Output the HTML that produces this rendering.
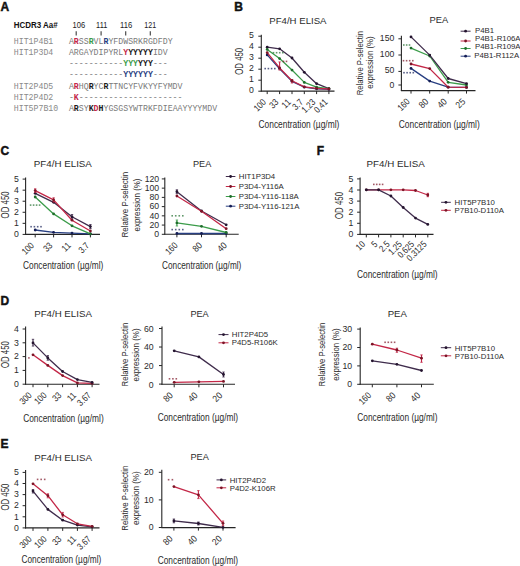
<!DOCTYPE html>
<html><head><meta charset="utf-8"><title>Figure</title>
<style>
html,body{margin:0;padding:0;background:#fff;width:520px;height:566px;overflow:hidden;}
svg{display:block;font-family:"Liberation Sans", sans-serif;}
</style></head><body>
<svg width="520" height="566" viewBox="0 0 520 566" font-family='"Liberation Sans", sans-serif' fill="#2b2b2b">
<rect width="520" height="566" fill="#ffffff"/>
<text x="0.6" y="11.1" font-size="12" font-weight="bold" fill="#111" stroke="#111" stroke-width="0.45">A</text>
<text x="13.7" y="28.3" font-size="8.8" font-weight="bold" fill="#111" textLength="44" lengthAdjust="spacingAndGlyphs">HCDR3 Aa#</text>
<text x="78.8" y="28.3" font-size="8.7" text-anchor="middle" fill="#222" textLength="12.6" lengthAdjust="spacingAndGlyphs">106</text>
<line x1="76.2" y1="31.2" x2="76.2" y2="35.6" stroke="#444" stroke-width="1.15"/>
<text x="101.7" y="28.3" font-size="8.7" text-anchor="middle" fill="#222" textLength="11.2" lengthAdjust="spacingAndGlyphs">111</text>
<line x1="101.1" y1="31.2" x2="101.1" y2="35.6" stroke="#444" stroke-width="1.15"/>
<text x="126.2" y="28.3" font-size="8.7" text-anchor="middle" fill="#222" textLength="12.2" lengthAdjust="spacingAndGlyphs">116</text>
<line x1="125.7" y1="31.2" x2="125.7" y2="35.6" stroke="#444" stroke-width="1.15"/>
<text x="150.2" y="28.3" font-size="8.7" text-anchor="middle" fill="#222" textLength="11.8" lengthAdjust="spacingAndGlyphs">121</text>
<line x1="150.3" y1="31.2" x2="150.3" y2="35.6" stroke="#444" stroke-width="1.15"/>
<text x="13.8" y="43.9" font-size="8.23" fill="#8a8a8a" font-family='"Liberation Mono", monospace'>HIT1P4B1</text>
<text x="68.9" y="43.9" font-size="8.23" fill="#7a7a7a" font-family='"Liberation Mono", monospace' textLength="4.94" lengthAdjust="spacingAndGlyphs">A</text>
<text x="73.84" y="43.9" font-size="8.23" font-weight="bold" fill="#c32747" font-family='"Liberation Mono", monospace' textLength="4.94" lengthAdjust="spacingAndGlyphs">R</text>
<text x="78.78" y="43.9" font-size="8.23" fill="#7a7a7a" font-family='"Liberation Mono", monospace' textLength="9.88" lengthAdjust="spacingAndGlyphs">SS</text>
<text x="88.66" y="43.9" font-size="8.23" font-weight="bold" fill="#3b9c4a" font-family='"Liberation Mono", monospace' textLength="4.94" lengthAdjust="spacingAndGlyphs">R</text>
<text x="93.6" y="43.9" font-size="8.23" fill="#7a7a7a" font-family='"Liberation Mono", monospace' textLength="9.88" lengthAdjust="spacingAndGlyphs">VL</text>
<text x="103.48" y="43.9" font-size="8.23" font-weight="bold" fill="#283f82" font-family='"Liberation Mono", monospace' textLength="4.94" lengthAdjust="spacingAndGlyphs">R</text>
<text x="108.42" y="43.9" font-size="8.23" fill="#7a7a7a" font-family='"Liberation Mono", monospace' textLength="64.22" lengthAdjust="spacingAndGlyphs">YFDWSRKRGDFDY</text>
<text x="13.8" y="54.9" font-size="8.23" fill="#8a8a8a" font-family='"Liberation Mono", monospace'>HIT1P3D4</text>
<text x="68.9" y="54.9" font-size="8.23" fill="#7a7a7a" font-family='"Liberation Mono", monospace' textLength="54.34" lengthAdjust="spacingAndGlyphs">ARGAYDIPYRL</text>
<text x="123.24" y="54.9" font-size="8.23" font-weight="bold" fill="#c32747" font-family='"Liberation Mono", monospace' textLength="4.94" lengthAdjust="spacingAndGlyphs">Y</text>
<text x="128.18" y="54.9" font-size="8.23" font-weight="bold" fill="#1a1a1a" font-family='"Liberation Mono", monospace' textLength="24.7" lengthAdjust="spacingAndGlyphs">YYYYY</text>
<text x="152.88" y="54.9" font-size="8.23" fill="#7a7a7a" font-family='"Liberation Mono", monospace' textLength="14.82" lengthAdjust="spacingAndGlyphs">IDV</text>
<text x="68.9" y="65.9" font-size="8.23" fill="#7a7a7a" font-family='"Liberation Mono", monospace' textLength="54.34" lengthAdjust="spacingAndGlyphs">-----------</text>
<text x="123.24" y="65.9" font-size="8.23" font-weight="bold" fill="#3b9c4a" font-family='"Liberation Mono", monospace' textLength="14.82" lengthAdjust="spacingAndGlyphs">YYY</text>
<text x="138.06" y="65.9" font-size="8.23" font-weight="bold" fill="#1a1a1a" font-family='"Liberation Mono", monospace' textLength="14.82" lengthAdjust="spacingAndGlyphs">YYY</text>
<text x="152.88" y="65.9" font-size="8.23" fill="#7a7a7a" font-family='"Liberation Mono", monospace' textLength="14.82" lengthAdjust="spacingAndGlyphs">---</text>
<text x="68.9" y="76.9" font-size="8.23" fill="#7a7a7a" font-family='"Liberation Mono", monospace' textLength="54.34" lengthAdjust="spacingAndGlyphs">-----------</text>
<text x="123.24" y="76.9" font-size="8.23" font-weight="bold" fill="#283f82" font-family='"Liberation Mono", monospace' textLength="29.64" lengthAdjust="spacingAndGlyphs">YYYYYY</text>
<text x="152.88" y="76.9" font-size="8.23" fill="#7a7a7a" font-family='"Liberation Mono", monospace' textLength="14.82" lengthAdjust="spacingAndGlyphs">---</text>
<text x="13.8" y="88.9" font-size="8.23" fill="#8a8a8a" font-family='"Liberation Mono", monospace'>HIT2P4D5</text>
<text x="68.9" y="88.9" font-size="8.23" fill="#7a7a7a" font-family='"Liberation Mono", monospace' textLength="4.94" lengthAdjust="spacingAndGlyphs">A</text>
<text x="73.84" y="88.9" font-size="8.23" font-weight="bold" fill="#c32747" font-family='"Liberation Mono", monospace' textLength="4.94" lengthAdjust="spacingAndGlyphs">R</text>
<text x="78.78" y="88.9" font-size="8.23" fill="#7a7a7a" font-family='"Liberation Mono", monospace' textLength="9.88" lengthAdjust="spacingAndGlyphs">HQ</text>
<text x="88.66" y="88.9" font-size="8.23" font-weight="bold" fill="#1a1a1a" font-family='"Liberation Mono", monospace' textLength="4.94" lengthAdjust="spacingAndGlyphs">R</text>
<text x="93.6" y="88.9" font-size="8.23" fill="#7a7a7a" font-family='"Liberation Mono", monospace' textLength="9.88" lengthAdjust="spacingAndGlyphs">YC</text>
<text x="103.48" y="88.9" font-size="8.23" font-weight="bold" fill="#1a1a1a" font-family='"Liberation Mono", monospace' textLength="4.94" lengthAdjust="spacingAndGlyphs">R</text>
<text x="108.42" y="88.9" font-size="8.23" fill="#7a7a7a" font-family='"Liberation Mono", monospace' textLength="74.1" lengthAdjust="spacingAndGlyphs">TTNCYFVKYYFYMDV</text>
<text x="13.8" y="100" font-size="8.23" fill="#8a8a8a" font-family='"Liberation Mono", monospace'>HIT2P4D2</text>
<text x="68.9" y="100" font-size="8.23" fill="#7a7a7a" font-family='"Liberation Mono", monospace' textLength="4.94" lengthAdjust="spacingAndGlyphs">-</text>
<text x="73.84" y="100" font-size="8.23" font-weight="bold" fill="#c32747" font-family='"Liberation Mono", monospace' textLength="4.94" lengthAdjust="spacingAndGlyphs">K</text>
<text x="78.78" y="100" font-size="8.23" fill="#7a7a7a" font-family='"Liberation Mono", monospace' textLength="103.74" lengthAdjust="spacingAndGlyphs">---------------------</text>
<text x="13.8" y="111.1" font-size="8.23" fill="#8a8a8a" font-family='"Liberation Mono", monospace'>HIT5P7B10</text>
<text x="68.9" y="111.1" font-size="8.23" fill="#7a7a7a" font-family='"Liberation Mono", monospace' textLength="4.94" lengthAdjust="spacingAndGlyphs">A</text>
<text x="73.84" y="111.1" font-size="8.23" font-weight="bold" fill="#1a1a1a" font-family='"Liberation Mono", monospace' textLength="4.94" lengthAdjust="spacingAndGlyphs">R</text>
<text x="78.78" y="111.1" font-size="8.23" fill="#7a7a7a" font-family='"Liberation Mono", monospace' textLength="9.88" lengthAdjust="spacingAndGlyphs">SY</text>
<text x="88.66" y="111.1" font-size="8.23" font-weight="bold" fill="#1a1a1a" font-family='"Liberation Mono", monospace' textLength="4.94" lengthAdjust="spacingAndGlyphs">K</text>
<text x="93.6" y="111.1" font-size="8.23" font-weight="bold" fill="#c32747" font-family='"Liberation Mono", monospace' textLength="4.94" lengthAdjust="spacingAndGlyphs">D</text>
<text x="98.54" y="111.1" font-size="8.23" font-weight="bold" fill="#1a1a1a" font-family='"Liberation Mono", monospace' textLength="4.94" lengthAdjust="spacingAndGlyphs">H</text>
<text x="103.48" y="111.1" font-size="8.23" fill="#7a7a7a" font-family='"Liberation Mono", monospace' textLength="113.62" lengthAdjust="spacingAndGlyphs">YGSGSYWTRKFDIEAAYYYYMDV</text>
<text x="234.2" y="11.1" font-size="12" font-weight="bold" fill="#111" stroke="#111" stroke-width="0.45">B</text>
<line x1="261.3" y1="34.8" x2="261.3" y2="91.6" stroke="#262626" stroke-width="1.1"/>
<line x1="260.8" y1="91.1" x2="334.5" y2="91.1" stroke="#262626" stroke-width="1.1"/>
<line x1="258.3" y1="91.2" x2="261.3" y2="91.2" stroke="#262626" stroke-width="1"/>
<text x="253.8" y="93.3" font-size="8.7" text-anchor="end">0</text>
<line x1="258.3" y1="80.2" x2="261.3" y2="80.2" stroke="#262626" stroke-width="1"/>
<text x="253.8" y="82.3" font-size="8.7" text-anchor="end">1</text>
<line x1="258.3" y1="69.2" x2="261.3" y2="69.2" stroke="#262626" stroke-width="1"/>
<text x="253.8" y="71.3" font-size="8.7" text-anchor="end">2</text>
<line x1="258.3" y1="58.2" x2="261.3" y2="58.2" stroke="#262626" stroke-width="1"/>
<text x="253.8" y="60.3" font-size="8.7" text-anchor="end">3</text>
<line x1="258.3" y1="47.2" x2="261.3" y2="47.2" stroke="#262626" stroke-width="1"/>
<text x="253.8" y="49.3" font-size="8.7" text-anchor="end">4</text>
<line x1="258.3" y1="36.2" x2="261.3" y2="36.2" stroke="#262626" stroke-width="1"/>
<text x="253.8" y="38.3" font-size="8.7" text-anchor="end">5</text>
<line x1="267.2" y1="91.1" x2="267.2" y2="94.1" stroke="#262626" stroke-width="1"/>
<text transform="translate(266.6 102.8) rotate(-45)" font-size="9.3" text-anchor="end" textLength="13" lengthAdjust="spacingAndGlyphs">100</text>
<line x1="279.6" y1="91.1" x2="279.6" y2="94.1" stroke="#262626" stroke-width="1"/>
<text transform="translate(279 102.8) rotate(-45)" font-size="9.3" text-anchor="end" textLength="8.63" lengthAdjust="spacingAndGlyphs">33</text>
<line x1="292" y1="91.1" x2="292" y2="94.1" stroke="#262626" stroke-width="1"/>
<text transform="translate(291.4 102.8) rotate(-45)" font-size="9.3" text-anchor="end" textLength="8.63" lengthAdjust="spacingAndGlyphs">11</text>
<line x1="304.3" y1="91.1" x2="304.3" y2="94.1" stroke="#262626" stroke-width="1"/>
<text transform="translate(303.7 102.8) rotate(-45)" font-size="9.3" text-anchor="end" textLength="10.82" lengthAdjust="spacingAndGlyphs">3.7</text>
<line x1="316.6" y1="91.1" x2="316.6" y2="94.1" stroke="#262626" stroke-width="1"/>
<text transform="translate(316 102.8) rotate(-45)" font-size="9.3" text-anchor="end" textLength="15.08" lengthAdjust="spacingAndGlyphs">1.23</text>
<line x1="328.9" y1="91.1" x2="328.9" y2="94.1" stroke="#262626" stroke-width="1"/>
<text transform="translate(328.3 102.8) rotate(-45)" font-size="9.3" text-anchor="end" textLength="15.08" lengthAdjust="spacingAndGlyphs">0.41</text>
<polyline points="267.2,47.2 279.6,48.85 292,57.98 304.3,72.28 316.6,83.72 328.9,88.56" fill="none" stroke="#3f2c4c" stroke-width="1.3" stroke-linejoin="round"/>
<circle cx="267.2" cy="47.2" r="1.4" fill="#24142f"/>
<circle cx="279.6" cy="48.85" r="1.4" fill="#24142f"/>
<circle cx="292" cy="57.98" r="1.4" fill="#24142f"/>
<circle cx="304.3" cy="72.28" r="1.4" fill="#24142f"/>
<circle cx="316.6" cy="83.72" r="1.4" fill="#24142f"/>
<circle cx="328.9" cy="88.56" r="1.4" fill="#24142f"/>
<polyline points="267.2,49.4 279.6,58.53 292,70.08 304.3,82.4 316.6,87.13 328.9,88.56" fill="none" stroke="#3b9c4a" stroke-width="1.3" stroke-linejoin="round"/>
<circle cx="267.2" cy="49.4" r="1.4" fill="#1f6e2c"/>
<circle cx="279.6" cy="58.53" r="1.4" fill="#1f6e2c"/>
<circle cx="292" cy="70.08" r="1.4" fill="#1f6e2c"/>
<circle cx="304.3" cy="82.4" r="1.4" fill="#1f6e2c"/>
<circle cx="316.6" cy="87.13" r="1.4" fill="#1f6e2c"/>
<circle cx="328.9" cy="88.56" r="1.4" fill="#1f6e2c"/>
<polyline points="267.2,54.9 279.6,68.76 292,81.3 304.3,87.13 316.6,88.78 328.9,89.44" fill="none" stroke="#283f82" stroke-width="1.3" stroke-linejoin="round"/>
<circle cx="267.2" cy="54.9" r="1.4" fill="#141d55"/>
<circle cx="279.6" cy="68.76" r="1.4" fill="#141d55"/>
<circle cx="292" cy="81.3" r="1.4" fill="#141d55"/>
<circle cx="304.3" cy="87.13" r="1.4" fill="#141d55"/>
<circle cx="316.6" cy="88.78" r="1.4" fill="#141d55"/>
<circle cx="328.9" cy="89.44" r="1.4" fill="#141d55"/>
<polyline points="267.2,52.7 279.6,67.88 292,80.75 304.3,86.8 316.6,88.45 328.9,89" fill="none" stroke="#c32747" stroke-width="1.3" stroke-linejoin="round"/>
<line x1="279.6" y1="61.9" x2="279.6" y2="70" stroke="#c32747" stroke-width="1.1"/>
<line x1="278.4" y1="61.9" x2="280.8" y2="61.9" stroke="#c32747" stroke-width="0.8"/>
<line x1="278.4" y1="70" x2="280.8" y2="70" stroke="#c32747" stroke-width="0.8"/>
<line x1="292" y1="79.5" x2="292" y2="83" stroke="#c32747" stroke-width="1.1"/>
<line x1="290.8" y1="79.5" x2="293.2" y2="79.5" stroke="#c32747" stroke-width="0.8"/>
<line x1="290.8" y1="83" x2="293.2" y2="83" stroke="#c32747" stroke-width="0.8"/>
<circle cx="267.2" cy="52.7" r="1.4" fill="#7c1426"/>
<circle cx="279.6" cy="67.88" r="1.4" fill="#7c1426"/>
<circle cx="292" cy="80.75" r="1.4" fill="#7c1426"/>
<circle cx="304.3" cy="86.8" r="1.4" fill="#7c1426"/>
<circle cx="316.6" cy="88.45" r="1.4" fill="#7c1426"/>
<circle cx="328.9" cy="89" r="1.4" fill="#7c1426"/>
<rect x="272.7" y="51.9" width="1.6" height="1.6" fill="#1f6e2c" opacity="0.7"/>
<rect x="275.8" y="51.9" width="1.6" height="1.6" fill="#1f6e2c" opacity="0.7"/>
<rect x="278.9" y="51.9" width="1.6" height="1.6" fill="#1f6e2c" opacity="0.7"/>
<rect x="282" y="51.9" width="1.6" height="1.6" fill="#1f6e2c" opacity="0.7"/>
<rect x="282.7" y="60.6" width="1.6" height="1.6" fill="#7c1426" opacity="0.7"/>
<rect x="285.7" y="60.6" width="1.6" height="1.6" fill="#7c1426" opacity="0.7"/>
<rect x="264.4" y="67.8" width="1.6" height="1.6" fill="#141d55" opacity="0.7"/>
<rect x="267.6" y="67.8" width="1.6" height="1.6" fill="#141d55" opacity="0.7"/>
<rect x="270.8" y="67.8" width="1.6" height="1.6" fill="#141d55" opacity="0.7"/>
<rect x="274" y="67.8" width="1.6" height="1.6" fill="#141d55" opacity="0.7"/>
<text x="297.9" y="23.8" font-size="9.4" text-anchor="middle" textLength="57.3" lengthAdjust="spacingAndGlyphs">PF4/H ELISA</text>
<text x="258.5" y="128.3" font-size="10.2" textLength="80.8" lengthAdjust="spacingAndGlyphs">Concentration (µg/ml)</text>
<text transform="translate(243.2 61.3) rotate(-90)" font-size="10.2" text-anchor="middle" textLength="27" lengthAdjust="spacingAndGlyphs">OD 450</text>
<line x1="401.4" y1="35.8" x2="401.4" y2="91.1" stroke="#262626" stroke-width="1.1"/>
<line x1="400.9" y1="90.6" x2="475.5" y2="90.6" stroke="#262626" stroke-width="1.1"/>
<line x1="398.4" y1="38.8" x2="401.4" y2="38.8" stroke="#262626" stroke-width="1"/>
<text x="394.3" y="41.3" font-size="8.7" text-anchor="end">150</text>
<line x1="398.4" y1="55" x2="401.4" y2="55" stroke="#262626" stroke-width="1"/>
<text x="394.3" y="56.7" font-size="8.7" text-anchor="end">100</text>
<line x1="398.4" y1="71.4" x2="401.4" y2="71.4" stroke="#262626" stroke-width="1"/>
<text x="394.3" y="72.8" font-size="8.7" text-anchor="end">50</text>
<line x1="398.4" y1="85" x2="401.4" y2="85" stroke="#262626" stroke-width="1"/>
<text x="394.3" y="87.5" font-size="8.7" text-anchor="end">0</text>
<line x1="411" y1="90.6" x2="411" y2="93.6" stroke="#262626" stroke-width="1"/>
<text transform="translate(410.4 102.3) rotate(-45)" font-size="9.3" text-anchor="end" textLength="13" lengthAdjust="spacingAndGlyphs">160</text>
<line x1="429.7" y1="90.6" x2="429.7" y2="93.6" stroke="#262626" stroke-width="1"/>
<text transform="translate(429.1 102.3) rotate(-45)" font-size="9.3" text-anchor="end" textLength="9.26" lengthAdjust="spacingAndGlyphs">80</text>
<line x1="448.2" y1="90.6" x2="448.2" y2="93.6" stroke="#262626" stroke-width="1"/>
<text transform="translate(447.6 102.3) rotate(-45)" font-size="9.3" text-anchor="end" textLength="9.26" lengthAdjust="spacingAndGlyphs">40</text>
<line x1="466.5" y1="90.6" x2="466.5" y2="93.6" stroke="#262626" stroke-width="1"/>
<text transform="translate(465.9 102.3) rotate(-45)" font-size="9.3" text-anchor="end" textLength="9.26" lengthAdjust="spacingAndGlyphs">25</text>
<polyline points="411,48.1 429.7,56 448.2,82.3 466.5,85" fill="none" stroke="#3b9c4a" stroke-width="1.3" stroke-linejoin="round"/>
<circle cx="411" cy="48.1" r="1.4" fill="#1f6e2c"/>
<circle cx="429.7" cy="56" r="1.4" fill="#1f6e2c"/>
<circle cx="448.2" cy="82.3" r="1.4" fill="#1f6e2c"/>
<circle cx="466.5" cy="85" r="1.4" fill="#1f6e2c"/>
<polyline points="411,68.4 429.7,81.1 448.2,87.2 466.5,87.4" fill="none" stroke="#283f82" stroke-width="1.3" stroke-linejoin="round"/>
<circle cx="411" cy="68.4" r="1.4" fill="#141d55"/>
<circle cx="429.7" cy="81.1" r="1.4" fill="#141d55"/>
<circle cx="448.2" cy="87.2" r="1.4" fill="#141d55"/>
<circle cx="466.5" cy="87.4" r="1.4" fill="#141d55"/>
<polyline points="411,64 429.7,68.6 448.2,87.2 466.5,87.4" fill="none" stroke="#c32747" stroke-width="1.3" stroke-linejoin="round"/>
<circle cx="411" cy="64" r="1.4" fill="#7c1426"/>
<circle cx="429.7" cy="68.6" r="1.4" fill="#7c1426"/>
<circle cx="448.2" cy="87.2" r="1.4" fill="#7c1426"/>
<circle cx="466.5" cy="87.4" r="1.4" fill="#7c1426"/>
<polyline points="411,36.9 429.7,55.1 448.2,78.5 466.5,83.6" fill="none" stroke="#3f2c4c" stroke-width="1.3" stroke-linejoin="round"/>
<circle cx="411" cy="36.9" r="1.4" fill="#24142f"/>
<circle cx="429.7" cy="55.1" r="1.4" fill="#24142f"/>
<circle cx="448.2" cy="78.5" r="1.4" fill="#24142f"/>
<circle cx="466.5" cy="83.6" r="1.4" fill="#24142f"/>
<rect x="403" y="44.2" width="1.6" height="1.6" fill="#1f6e2c" opacity="0.7"/>
<rect x="405.85" y="44.2" width="1.6" height="1.6" fill="#1f6e2c" opacity="0.7"/>
<rect x="408.7" y="44.2" width="1.6" height="1.6" fill="#1f6e2c" opacity="0.7"/>
<rect x="402.7" y="59.9" width="1.6" height="1.6" fill="#7c1426" opacity="0.7"/>
<rect x="405.8" y="59.9" width="1.6" height="1.6" fill="#7c1426" opacity="0.7"/>
<rect x="408.9" y="59.9" width="1.6" height="1.6" fill="#7c1426" opacity="0.7"/>
<rect x="412" y="59.9" width="1.6" height="1.6" fill="#7c1426" opacity="0.7"/>
<rect x="403.2" y="71.9" width="1.6" height="1.6" fill="#141d55" opacity="0.7"/>
<rect x="406.3" y="71.9" width="1.6" height="1.6" fill="#141d55" opacity="0.7"/>
<rect x="409.4" y="71.9" width="1.6" height="1.6" fill="#141d55" opacity="0.7"/>
<rect x="412.5" y="71.9" width="1.6" height="1.6" fill="#141d55" opacity="0.7"/>
<text x="438.8" y="23" font-size="9.4" text-anchor="middle" textLength="18.7" lengthAdjust="spacingAndGlyphs">PEA</text>
<text x="398.8" y="128.3" font-size="10.2" textLength="81" lengthAdjust="spacingAndGlyphs">Concentration (µg/ml)</text>
<text transform="translate(363.3 63.2) rotate(-90)" font-size="9.6" text-anchor="middle" textLength="64.3" lengthAdjust="spacingAndGlyphs">Relative P-selectin</text>
<text transform="translate(372.9 62.5) rotate(-90)" font-size="9.6" text-anchor="middle" textLength="52.4" lengthAdjust="spacingAndGlyphs">expression (%)</text>
<line x1="460.6" y1="31.2" x2="470.6" y2="31.2" stroke="#3f2c4c" stroke-width="1"/>
<circle cx="465.6" cy="31.2" r="1.4" fill="#24142f"/>
<text x="475" y="33" font-size="7.8">P4B1</text>
<line x1="460.6" y1="41" x2="470.6" y2="41" stroke="#c32747" stroke-width="1"/>
<circle cx="465.6" cy="41" r="1.4" fill="#7c1426"/>
<text x="475" y="40.7" font-size="7.8">P4B1-R106A</text>
<line x1="460.6" y1="48.5" x2="470.6" y2="48.5" stroke="#3b9c4a" stroke-width="1"/>
<circle cx="465.6" cy="48.5" r="1.4" fill="#1f6e2c"/>
<text x="475" y="48.5" font-size="7.8">P4B1-R109A</text>
<line x1="460.6" y1="56.2" x2="470.6" y2="56.2" stroke="#283f82" stroke-width="1"/>
<circle cx="465.6" cy="56.2" r="1.4" fill="#141d55"/>
<text x="474.2" y="58.1" font-size="7.8">P4B1-R112A</text>
<text x="0.4" y="155" font-size="12" font-weight="bold" fill="#111" stroke="#111" stroke-width="0.45">C</text>
<line x1="25.6" y1="177.6" x2="25.6" y2="234.9" stroke="#262626" stroke-width="1.1"/>
<line x1="25.1" y1="234.4" x2="100" y2="234.4" stroke="#262626" stroke-width="1.1"/>
<line x1="22.6" y1="234.4" x2="25.6" y2="234.4" stroke="#262626" stroke-width="1"/>
<text x="18.9" y="237.1" font-size="8.7" text-anchor="end">0</text>
<line x1="22.6" y1="223.34" x2="25.6" y2="223.34" stroke="#262626" stroke-width="1"/>
<text x="18.9" y="226.04" font-size="8.7" text-anchor="end">1</text>
<line x1="22.6" y1="212.28" x2="25.6" y2="212.28" stroke="#262626" stroke-width="1"/>
<text x="18.9" y="214.98" font-size="8.7" text-anchor="end">2</text>
<line x1="22.6" y1="201.22" x2="25.6" y2="201.22" stroke="#262626" stroke-width="1"/>
<text x="18.9" y="203.92" font-size="8.7" text-anchor="end">3</text>
<line x1="22.6" y1="190.16" x2="25.6" y2="190.16" stroke="#262626" stroke-width="1"/>
<text x="18.9" y="192.86" font-size="8.7" text-anchor="end">4</text>
<line x1="22.6" y1="179.1" x2="25.6" y2="179.1" stroke="#262626" stroke-width="1"/>
<text x="18.9" y="181.8" font-size="8.7" text-anchor="end">5</text>
<line x1="35.2" y1="234.4" x2="35.2" y2="237.4" stroke="#262626" stroke-width="1"/>
<text transform="translate(34.6 246.1) rotate(-45)" font-size="9.3" text-anchor="end" textLength="13" lengthAdjust="spacingAndGlyphs">100</text>
<line x1="53.6" y1="234.4" x2="53.6" y2="237.4" stroke="#262626" stroke-width="1"/>
<text transform="translate(53 246.1) rotate(-45)" font-size="9.3" text-anchor="end" textLength="8.63" lengthAdjust="spacingAndGlyphs">33</text>
<line x1="72" y1="234.4" x2="72" y2="237.4" stroke="#262626" stroke-width="1"/>
<text transform="translate(71.4 246.1) rotate(-45)" font-size="9.3" text-anchor="end" textLength="8.63" lengthAdjust="spacingAndGlyphs">11</text>
<line x1="90.4" y1="234.4" x2="90.4" y2="237.4" stroke="#262626" stroke-width="1"/>
<text transform="translate(89.8 246.1) rotate(-45)" font-size="9.3" text-anchor="end" textLength="10.82" lengthAdjust="spacingAndGlyphs">3.7</text>
<polyline points="35.2,230 53.6,232.3 72,233.1 90.4,233.9" fill="none" stroke="#283f82" stroke-width="1.3" stroke-linejoin="round"/>
<circle cx="35.2" cy="230" r="1.4" fill="#141d55"/>
<circle cx="53.6" cy="232.3" r="1.4" fill="#141d55"/>
<circle cx="72" cy="233.1" r="1.4" fill="#141d55"/>
<circle cx="90.4" cy="233.9" r="1.4" fill="#141d55"/>
<polyline points="35.2,197 53.6,213.9 72,225.8 90.4,233.9" fill="none" stroke="#3b9c4a" stroke-width="1.3" stroke-linejoin="round"/>
<circle cx="35.2" cy="197" r="1.4" fill="#1f6e2c"/>
<circle cx="53.6" cy="213.9" r="1.4" fill="#1f6e2c"/>
<circle cx="72" cy="225.8" r="1.4" fill="#1f6e2c"/>
<circle cx="90.4" cy="233.9" r="1.4" fill="#1f6e2c"/>
<polyline points="35.2,193.3 53.6,202.3 72,216.8 90.4,226.6" fill="none" stroke="#3f2c4c" stroke-width="1.3" stroke-linejoin="round"/>
<line x1="72" y1="214.5" x2="72" y2="219" stroke="#3f2c4c" stroke-width="1.1"/>
<line x1="70.8" y1="214.5" x2="73.2" y2="214.5" stroke="#3f2c4c" stroke-width="0.8"/>
<line x1="70.8" y1="219" x2="73.2" y2="219" stroke="#3f2c4c" stroke-width="0.8"/>
<line x1="90.4" y1="224.5" x2="90.4" y2="228.5" stroke="#3f2c4c" stroke-width="1.1"/>
<line x1="89.2" y1="224.5" x2="91.6" y2="224.5" stroke="#3f2c4c" stroke-width="0.8"/>
<line x1="89.2" y1="228.5" x2="91.6" y2="228.5" stroke="#3f2c4c" stroke-width="0.8"/>
<circle cx="35.2" cy="193.3" r="1.4" fill="#24142f"/>
<circle cx="53.6" cy="202.3" r="1.4" fill="#24142f"/>
<circle cx="72" cy="216.8" r="1.4" fill="#24142f"/>
<circle cx="90.4" cy="226.6" r="1.4" fill="#24142f"/>
<polyline points="35.2,190.6 53.6,199.9 72,220.2 90.4,231" fill="none" stroke="#c32747" stroke-width="1.3" stroke-linejoin="round"/>
<line x1="35.2" y1="188.8" x2="35.2" y2="192.4" stroke="#c32747" stroke-width="1.1"/>
<line x1="34" y1="188.8" x2="36.4" y2="188.8" stroke="#c32747" stroke-width="0.8"/>
<line x1="34" y1="192.4" x2="36.4" y2="192.4" stroke="#c32747" stroke-width="0.8"/>
<line x1="53.6" y1="197.8" x2="53.6" y2="202" stroke="#c32747" stroke-width="1.1"/>
<line x1="52.4" y1="197.8" x2="54.8" y2="197.8" stroke="#c32747" stroke-width="0.8"/>
<line x1="52.4" y1="202" x2="54.8" y2="202" stroke="#c32747" stroke-width="0.8"/>
<circle cx="35.2" cy="190.6" r="1.4" fill="#7c1426"/>
<circle cx="53.6" cy="199.9" r="1.4" fill="#7c1426"/>
<circle cx="72" cy="220.2" r="1.4" fill="#7c1426"/>
<circle cx="90.4" cy="231" r="1.4" fill="#7c1426"/>
<rect x="29.8" y="204.3" width="1.6" height="1.6" fill="#1f6e2c" opacity="0.7"/>
<rect x="32.8" y="204.3" width="1.6" height="1.6" fill="#1f6e2c" opacity="0.7"/>
<rect x="35.8" y="204.3" width="1.6" height="1.6" fill="#1f6e2c" opacity="0.7"/>
<rect x="38.8" y="204.3" width="1.6" height="1.6" fill="#1f6e2c" opacity="0.7"/>
<rect x="30.3" y="225.9" width="1.6" height="1.6" fill="#141d55" opacity="0.7"/>
<rect x="33.6" y="225.9" width="1.6" height="1.6" fill="#141d55" opacity="0.7"/>
<rect x="36.9" y="225.9" width="1.6" height="1.6" fill="#141d55" opacity="0.7"/>
<rect x="40.2" y="225.9" width="1.6" height="1.6" fill="#141d55" opacity="0.7"/>
<text x="62.85" y="166.8" font-size="9.4" text-anchor="middle" textLength="58.1" lengthAdjust="spacingAndGlyphs">PF4/H ELISA</text>
<text x="23.1" y="268.9" font-size="10.2" textLength="80.2" lengthAdjust="spacingAndGlyphs">Concentration (µg/ml)</text>
<text transform="translate(8.9 204.9) rotate(-90)" font-size="10.2" text-anchor="middle" textLength="27" lengthAdjust="spacingAndGlyphs">OD 450</text>
<line x1="164.8" y1="177.5" x2="164.8" y2="234.8" stroke="#262626" stroke-width="1.1"/>
<line x1="164.3" y1="234.3" x2="238.7" y2="234.3" stroke="#262626" stroke-width="1.1"/>
<line x1="161.8" y1="234.3" x2="164.8" y2="234.3" stroke="#262626" stroke-width="1"/>
<text x="159.2" y="237" font-size="8.7" text-anchor="end">0</text>
<line x1="161.8" y1="225.07" x2="164.8" y2="225.07" stroke="#262626" stroke-width="1"/>
<text x="159.2" y="227.77" font-size="8.7" text-anchor="end">20</text>
<line x1="161.8" y1="215.84" x2="164.8" y2="215.84" stroke="#262626" stroke-width="1"/>
<text x="159.2" y="218.54" font-size="8.7" text-anchor="end">40</text>
<line x1="161.8" y1="206.61" x2="164.8" y2="206.61" stroke="#262626" stroke-width="1"/>
<text x="159.2" y="209.31" font-size="8.7" text-anchor="end">60</text>
<line x1="161.8" y1="197.38" x2="164.8" y2="197.38" stroke="#262626" stroke-width="1"/>
<text x="159.2" y="200.08" font-size="8.7" text-anchor="end">80</text>
<line x1="161.8" y1="188.15" x2="164.8" y2="188.15" stroke="#262626" stroke-width="1"/>
<text x="159.2" y="190.85" font-size="8.7" text-anchor="end">100</text>
<line x1="161.8" y1="178.92" x2="164.8" y2="178.92" stroke="#262626" stroke-width="1"/>
<text x="159.2" y="181.62" font-size="8.7" text-anchor="end">120</text>
<line x1="176.9" y1="234.3" x2="176.9" y2="237.3" stroke="#262626" stroke-width="1"/>
<text transform="translate(178.2 246) rotate(-45)" font-size="9.3" text-anchor="end" textLength="13" lengthAdjust="spacingAndGlyphs">160</text>
<line x1="201.5" y1="234.3" x2="201.5" y2="237.3" stroke="#262626" stroke-width="1"/>
<text transform="translate(202.8 246) rotate(-45)" font-size="9.3" text-anchor="end" textLength="9.26" lengthAdjust="spacingAndGlyphs">80</text>
<line x1="226.2" y1="234.3" x2="226.2" y2="237.3" stroke="#262626" stroke-width="1"/>
<text transform="translate(227.5 246) rotate(-45)" font-size="9.3" text-anchor="end" textLength="9.26" lengthAdjust="spacingAndGlyphs">40</text>
<polyline points="176.9,233.5 201.5,233.5 226.2,233.5" fill="none" stroke="#283f82" stroke-width="1.3" stroke-linejoin="round"/>
<circle cx="176.9" cy="233.5" r="1.4" fill="#141d55"/>
<circle cx="201.5" cy="233.5" r="1.4" fill="#141d55"/>
<circle cx="226.2" cy="233.5" r="1.4" fill="#141d55"/>
<polyline points="176.9,222.9 201.5,226.3 226.2,232.5" fill="none" stroke="#3b9c4a" stroke-width="1.3" stroke-linejoin="round"/>
<line x1="176.9" y1="220" x2="176.9" y2="226" stroke="#3b9c4a" stroke-width="1.1"/>
<line x1="175.7" y1="220" x2="178.1" y2="220" stroke="#3b9c4a" stroke-width="0.8"/>
<line x1="175.7" y1="226" x2="178.1" y2="226" stroke="#3b9c4a" stroke-width="0.8"/>
<circle cx="176.9" cy="222.9" r="1.4" fill="#1f6e2c"/>
<circle cx="201.5" cy="226.3" r="1.4" fill="#1f6e2c"/>
<circle cx="226.2" cy="232.5" r="1.4" fill="#1f6e2c"/>
<polyline points="176.9,191.7 201.5,211 226.2,224.8" fill="none" stroke="#3f2c4c" stroke-width="1.3" stroke-linejoin="round"/>
<line x1="176.9" y1="189.8" x2="176.9" y2="193.6" stroke="#3f2c4c" stroke-width="1.1"/>
<line x1="175.7" y1="189.8" x2="178.1" y2="189.8" stroke="#3f2c4c" stroke-width="0.8"/>
<line x1="175.7" y1="193.6" x2="178.1" y2="193.6" stroke="#3f2c4c" stroke-width="0.8"/>
<circle cx="176.9" cy="191.7" r="1.4" fill="#24142f"/>
<circle cx="201.5" cy="211" r="1.4" fill="#24142f"/>
<circle cx="226.2" cy="224.8" r="1.4" fill="#24142f"/>
<polyline points="176.9,196 201.5,211.3 226.2,228.7" fill="none" stroke="#c32747" stroke-width="1.3" stroke-linejoin="round"/>
<circle cx="176.9" cy="196" r="1.4" fill="#7c1426"/>
<circle cx="201.5" cy="211.3" r="1.4" fill="#7c1426"/>
<circle cx="226.2" cy="228.7" r="1.4" fill="#7c1426"/>
<rect x="171.4" y="215" width="1.6" height="1.6" fill="#1f6e2c" opacity="0.7"/>
<rect x="174.93" y="215" width="1.6" height="1.6" fill="#1f6e2c" opacity="0.7"/>
<rect x="178.47" y="215" width="1.6" height="1.6" fill="#1f6e2c" opacity="0.7"/>
<rect x="182" y="215" width="1.6" height="1.6" fill="#1f6e2c" opacity="0.7"/>
<rect x="171.4" y="228.8" width="1.6" height="1.6" fill="#141d55" opacity="0.7"/>
<rect x="174.93" y="228.8" width="1.6" height="1.6" fill="#141d55" opacity="0.7"/>
<rect x="178.47" y="228.8" width="1.6" height="1.6" fill="#141d55" opacity="0.7"/>
<rect x="182" y="228.8" width="1.6" height="1.6" fill="#141d55" opacity="0.7"/>
<text x="202.15" y="166.8" font-size="9.4" text-anchor="middle" textLength="18.3" lengthAdjust="spacingAndGlyphs">PEA</text>
<text x="162.1" y="269.3" font-size="10.2" textLength="79.2" lengthAdjust="spacingAndGlyphs">Concentration (µg/ml)</text>
<text transform="translate(127.6 204.6) rotate(-90)" font-size="9.6" text-anchor="middle" textLength="65.6" lengthAdjust="spacingAndGlyphs">Relative P-selectin</text>
<text transform="translate(140 205) rotate(-90)" font-size="9.6" text-anchor="middle" textLength="53" lengthAdjust="spacingAndGlyphs">expression (%)</text>
<line x1="225.8" y1="176.5" x2="235.4" y2="176.5" stroke="#3f2c4c" stroke-width="1"/>
<circle cx="230.6" cy="176.5" r="1.4" fill="#24142f"/>
<text x="238.8" y="179" font-size="7.8">HIT1P3D4</text>
<line x1="225.8" y1="186.5" x2="235.4" y2="186.5" stroke="#c32747" stroke-width="1"/>
<circle cx="230.6" cy="186.5" r="1.4" fill="#7c1426"/>
<text x="238.8" y="189" font-size="7.8">P3D4-Y116A</text>
<line x1="225.8" y1="196.5" x2="235.4" y2="196.5" stroke="#3b9c4a" stroke-width="1"/>
<circle cx="230.6" cy="196.5" r="1.4" fill="#1f6e2c"/>
<text x="238.8" y="199.1" font-size="7.8">P3D4-Y116-118A</text>
<line x1="225.8" y1="206.2" x2="235.4" y2="206.2" stroke="#283f82" stroke-width="1"/>
<circle cx="230.6" cy="206.2" r="1.4" fill="#141d55"/>
<text x="238.8" y="208.8" font-size="7.8">P3D4-Y116-121A</text>
<text x="316.8" y="154.8" font-size="12" font-weight="bold" fill="#111" stroke="#111" stroke-width="0.45">F</text>
<line x1="360.1" y1="177.6" x2="360.1" y2="234.9" stroke="#262626" stroke-width="1.1"/>
<line x1="359.6" y1="234.4" x2="433.5" y2="234.4" stroke="#262626" stroke-width="1.1"/>
<line x1="357.1" y1="234.4" x2="360.1" y2="234.4" stroke="#262626" stroke-width="1"/>
<text x="353.3" y="237.1" font-size="8.7" text-anchor="end">0</text>
<line x1="357.1" y1="223.3" x2="360.1" y2="223.3" stroke="#262626" stroke-width="1"/>
<text x="353.3" y="226" font-size="8.7" text-anchor="end">1</text>
<line x1="357.1" y1="212.2" x2="360.1" y2="212.2" stroke="#262626" stroke-width="1"/>
<text x="353.3" y="214.9" font-size="8.7" text-anchor="end">2</text>
<line x1="357.1" y1="201.1" x2="360.1" y2="201.1" stroke="#262626" stroke-width="1"/>
<text x="353.3" y="203.8" font-size="8.7" text-anchor="end">3</text>
<line x1="357.1" y1="190" x2="360.1" y2="190" stroke="#262626" stroke-width="1"/>
<text x="353.3" y="192.7" font-size="8.7" text-anchor="end">4</text>
<line x1="357.1" y1="178.9" x2="360.1" y2="178.9" stroke="#262626" stroke-width="1"/>
<text x="353.3" y="181.6" font-size="8.7" text-anchor="end">5</text>
<line x1="366.3" y1="234.4" x2="366.3" y2="237.4" stroke="#262626" stroke-width="1"/>
<text transform="translate(365.7 244.8) rotate(-45)" font-size="9.3" text-anchor="end" textLength="8.63" lengthAdjust="spacingAndGlyphs">10</text>
<line x1="378.6" y1="234.4" x2="378.6" y2="237.4" stroke="#262626" stroke-width="1"/>
<text transform="translate(378 244.8) rotate(-45)" font-size="9.3" text-anchor="end" textLength="4.37" lengthAdjust="spacingAndGlyphs">5</text>
<line x1="390.9" y1="234.4" x2="390.9" y2="237.4" stroke="#262626" stroke-width="1"/>
<text transform="translate(390.3 244.8) rotate(-45)" font-size="9.3" text-anchor="end" textLength="10.82" lengthAdjust="spacingAndGlyphs">2.5</text>
<line x1="403.2" y1="234.4" x2="403.2" y2="237.4" stroke="#262626" stroke-width="1"/>
<text transform="translate(402.6 244.8) rotate(-45)" font-size="9.3" text-anchor="end" textLength="15.08" lengthAdjust="spacingAndGlyphs">1.25</text>
<line x1="415.5" y1="234.4" x2="415.5" y2="237.4" stroke="#262626" stroke-width="1"/>
<text transform="translate(414.9 244.8) rotate(-45)" font-size="9.3" text-anchor="end" textLength="19.45" lengthAdjust="spacingAndGlyphs">0.625</text>
<line x1="427.8" y1="234.4" x2="427.8" y2="237.4" stroke="#262626" stroke-width="1"/>
<text transform="translate(427.2 244.8) rotate(-45)" font-size="9.3" text-anchor="end" textLength="23.82" lengthAdjust="spacingAndGlyphs">0.3125</text>
<polyline points="366.3,189.8 378.6,189.8 390.9,189.8 403.2,189.8 415.5,190.5 427.8,195" fill="none" stroke="#c32747" stroke-width="1.3" stroke-linejoin="round"/>
<line x1="427.8" y1="193.3" x2="427.8" y2="196.7" stroke="#c32747" stroke-width="1.1"/>
<line x1="426.6" y1="193.3" x2="429" y2="193.3" stroke="#c32747" stroke-width="0.8"/>
<line x1="426.6" y1="196.7" x2="429" y2="196.7" stroke="#c32747" stroke-width="0.8"/>
<circle cx="366.3" cy="189.8" r="1.4" fill="#7c1426"/>
<circle cx="378.6" cy="189.8" r="1.4" fill="#7c1426"/>
<circle cx="390.9" cy="189.8" r="1.4" fill="#7c1426"/>
<circle cx="403.2" cy="189.8" r="1.4" fill="#7c1426"/>
<circle cx="415.5" cy="190.5" r="1.4" fill="#7c1426"/>
<circle cx="427.8" cy="195" r="1.4" fill="#7c1426"/>
<polyline points="366.3,189.8 378.6,189.8 390.9,196 403.2,207.5 415.5,218.1 427.8,224.4" fill="none" stroke="#3f2c4c" stroke-width="1.3" stroke-linejoin="round"/>
<circle cx="366.3" cy="189.8" r="1.4" fill="#24142f"/>
<circle cx="378.6" cy="189.8" r="1.4" fill="#24142f"/>
<circle cx="390.9" cy="196" r="1.4" fill="#24142f"/>
<circle cx="403.2" cy="207.5" r="1.4" fill="#24142f"/>
<circle cx="415.5" cy="218.1" r="1.4" fill="#24142f"/>
<circle cx="427.8" cy="224.4" r="1.4" fill="#24142f"/>
<rect x="373" y="183.6" width="1.6" height="1.6" fill="#7c1426" opacity="0.7"/>
<rect x="375.93" y="183.6" width="1.6" height="1.6" fill="#7c1426" opacity="0.7"/>
<rect x="378.87" y="183.6" width="1.6" height="1.6" fill="#7c1426" opacity="0.7"/>
<rect x="381.8" y="183.6" width="1.6" height="1.6" fill="#7c1426" opacity="0.7"/>
<text x="395.6" y="167" font-size="9.4" text-anchor="middle" textLength="58.2" lengthAdjust="spacingAndGlyphs">PF4/H ELISA</text>
<text x="357" y="277.8" font-size="10.2" textLength="80.6" lengthAdjust="spacingAndGlyphs">Concentration (µg/ml)</text>
<text transform="translate(342.9 205.5) rotate(-90)" font-size="10.2" text-anchor="middle" textLength="27" lengthAdjust="spacingAndGlyphs">OD 450</text>
<line x1="441.1" y1="202.3" x2="450.8" y2="202.3" stroke="#3f2c4c" stroke-width="1"/>
<circle cx="445.95" cy="202.3" r="1.4" fill="#24142f"/>
<text x="454.6" y="205.2" font-size="7.8">HIT5P7B10</text>
<line x1="441.1" y1="210.3" x2="450.8" y2="210.3" stroke="#c32747" stroke-width="1"/>
<circle cx="445.95" cy="210.3" r="1.4" fill="#7c1426"/>
<text x="454.6" y="213.4" font-size="7.8">P7B10-D110A</text>
<text x="0.4" y="304.5" font-size="12" font-weight="bold" fill="#111" stroke="#111" stroke-width="0.45">D</text>
<line x1="25.6" y1="326.5" x2="25.6" y2="384.7" stroke="#262626" stroke-width="1.1"/>
<line x1="25.1" y1="384.2" x2="99.5" y2="384.2" stroke="#262626" stroke-width="1.1"/>
<line x1="22.6" y1="384.2" x2="25.6" y2="384.2" stroke="#262626" stroke-width="1"/>
<text x="18.9" y="386.9" font-size="8.7" text-anchor="end">0</text>
<line x1="22.6" y1="370.4" x2="25.6" y2="370.4" stroke="#262626" stroke-width="1"/>
<text x="18.9" y="373.1" font-size="8.7" text-anchor="end">1</text>
<line x1="22.6" y1="356.6" x2="25.6" y2="356.6" stroke="#262626" stroke-width="1"/>
<text x="18.9" y="359.3" font-size="8.7" text-anchor="end">2</text>
<line x1="22.6" y1="342.8" x2="25.6" y2="342.8" stroke="#262626" stroke-width="1"/>
<text x="18.9" y="345.5" font-size="8.7" text-anchor="end">3</text>
<line x1="22.6" y1="329" x2="25.6" y2="329" stroke="#262626" stroke-width="1"/>
<text x="18.9" y="331.7" font-size="8.7" text-anchor="end">4</text>
<line x1="33" y1="384.2" x2="33" y2="387.2" stroke="#262626" stroke-width="1"/>
<text transform="translate(32.4 395.9) rotate(-45)" font-size="9.3" text-anchor="end" textLength="13" lengthAdjust="spacingAndGlyphs">300</text>
<line x1="47.8" y1="384.2" x2="47.8" y2="387.2" stroke="#262626" stroke-width="1"/>
<text transform="translate(47.2 395.9) rotate(-45)" font-size="9.3" text-anchor="end" textLength="13" lengthAdjust="spacingAndGlyphs">100</text>
<line x1="62.6" y1="384.2" x2="62.6" y2="387.2" stroke="#262626" stroke-width="1"/>
<text transform="translate(62 395.9) rotate(-45)" font-size="9.3" text-anchor="end" textLength="8.63" lengthAdjust="spacingAndGlyphs">33</text>
<line x1="77.4" y1="384.2" x2="77.4" y2="387.2" stroke="#262626" stroke-width="1"/>
<text transform="translate(76.8 395.9) rotate(-45)" font-size="9.3" text-anchor="end" textLength="8.63" lengthAdjust="spacingAndGlyphs">11</text>
<line x1="92.1" y1="384.2" x2="92.1" y2="387.2" stroke="#262626" stroke-width="1"/>
<text transform="translate(91.5 395.9) rotate(-45)" font-size="9.3" text-anchor="end" textLength="15.08" lengthAdjust="spacingAndGlyphs">3.67</text>
<polyline points="33,354.8 47.8,365.4 62.6,375.6 77.4,382.9 92.1,383.4" fill="none" stroke="#c32747" stroke-width="1.3" stroke-linejoin="round"/>
<circle cx="33" cy="354.8" r="1.4" fill="#7c1426"/>
<circle cx="47.8" cy="365.4" r="1.4" fill="#7c1426"/>
<circle cx="62.6" cy="375.6" r="1.4" fill="#7c1426"/>
<circle cx="77.4" cy="382.9" r="1.4" fill="#7c1426"/>
<circle cx="92.1" cy="383.4" r="1.4" fill="#7c1426"/>
<polyline points="33,342.9 47.8,357.9 62.6,371.5 77.4,379.6 92.1,382.4" fill="none" stroke="#3f2c4c" stroke-width="1.3" stroke-linejoin="round"/>
<line x1="33" y1="339.3" x2="33" y2="346.1" stroke="#3f2c4c" stroke-width="1.1"/>
<line x1="31.8" y1="339.3" x2="34.2" y2="339.3" stroke="#3f2c4c" stroke-width="0.8"/>
<line x1="31.8" y1="346.1" x2="34.2" y2="346.1" stroke="#3f2c4c" stroke-width="0.8"/>
<line x1="47.8" y1="355.6" x2="47.8" y2="360.2" stroke="#3f2c4c" stroke-width="1.1"/>
<line x1="46.6" y1="355.6" x2="49" y2="355.6" stroke="#3f2c4c" stroke-width="0.8"/>
<line x1="46.6" y1="360.2" x2="49" y2="360.2" stroke="#3f2c4c" stroke-width="0.8"/>
<circle cx="33" cy="342.9" r="1.4" fill="#24142f"/>
<circle cx="47.8" cy="357.9" r="1.4" fill="#24142f"/>
<circle cx="62.6" cy="371.5" r="1.4" fill="#24142f"/>
<circle cx="77.4" cy="379.6" r="1.4" fill="#24142f"/>
<circle cx="92.1" cy="382.4" r="1.4" fill="#24142f"/>
<rect x="28.1" y="357.1" width="1.6" height="1.6" fill="#7c1426" opacity="0.7"/>
<text x="63.05" y="316.9" font-size="9.4" text-anchor="middle" textLength="57.7" lengthAdjust="spacingAndGlyphs">PF4/H ELISA</text>
<text x="23.2" y="421.6" font-size="10.2" textLength="80.5" lengthAdjust="spacingAndGlyphs">Concentration (µg/ml)</text>
<text transform="translate(8.9 354.6) rotate(-90)" font-size="10.2" text-anchor="middle" textLength="27" lengthAdjust="spacingAndGlyphs">OD 450</text>
<line x1="162" y1="326.6" x2="162" y2="384.8" stroke="#262626" stroke-width="1.1"/>
<line x1="161.5" y1="384.3" x2="235" y2="384.3" stroke="#262626" stroke-width="1.1"/>
<line x1="159" y1="384.1" x2="162" y2="384.1" stroke="#262626" stroke-width="1"/>
<text x="153.6" y="387.5" font-size="8.7" text-anchor="end">0</text>
<line x1="159" y1="365.57" x2="162" y2="365.57" stroke="#262626" stroke-width="1"/>
<text x="153.6" y="368.96" font-size="8.7" text-anchor="end">20</text>
<line x1="159" y1="347.03" x2="162" y2="347.03" stroke="#262626" stroke-width="1"/>
<text x="153.6" y="350.43" font-size="8.7" text-anchor="end">40</text>
<line x1="159" y1="328.5" x2="162" y2="328.5" stroke="#262626" stroke-width="1"/>
<text x="153.6" y="331.9" font-size="8.7" text-anchor="end">60</text>
<line x1="174.2" y1="384.3" x2="174.2" y2="387.3" stroke="#262626" stroke-width="1"/>
<text transform="translate(173.6 396) rotate(-45)" font-size="9.3" text-anchor="end" textLength="9.26" lengthAdjust="spacingAndGlyphs">80</text>
<line x1="198.9" y1="384.3" x2="198.9" y2="387.3" stroke="#262626" stroke-width="1"/>
<text transform="translate(198.3 396) rotate(-45)" font-size="9.3" text-anchor="end" textLength="9.26" lengthAdjust="spacingAndGlyphs">40</text>
<line x1="223.5" y1="384.3" x2="223.5" y2="387.3" stroke="#262626" stroke-width="1"/>
<text transform="translate(222.9 396) rotate(-45)" font-size="9.3" text-anchor="end" textLength="9.26" lengthAdjust="spacingAndGlyphs">20</text>
<polyline points="174.2,382.3 198.9,381.8 223.5,381.4" fill="none" stroke="#c32747" stroke-width="1.3" stroke-linejoin="round"/>
<circle cx="174.2" cy="382.3" r="1.4" fill="#7c1426"/>
<circle cx="198.9" cy="381.8" r="1.4" fill="#7c1426"/>
<circle cx="223.5" cy="381.4" r="1.4" fill="#7c1426"/>
<polyline points="174.2,350.8 198.9,356.9 223.5,374.5" fill="none" stroke="#3f2c4c" stroke-width="1.3" stroke-linejoin="round"/>
<line x1="223.5" y1="372" x2="223.5" y2="377" stroke="#3f2c4c" stroke-width="1.1"/>
<line x1="222.3" y1="372" x2="224.7" y2="372" stroke="#3f2c4c" stroke-width="0.8"/>
<line x1="222.3" y1="377" x2="224.7" y2="377" stroke="#3f2c4c" stroke-width="0.8"/>
<circle cx="174.2" cy="350.8" r="1.4" fill="#24142f"/>
<circle cx="198.9" cy="356.9" r="1.4" fill="#24142f"/>
<circle cx="223.5" cy="374.5" r="1.4" fill="#24142f"/>
<rect x="168.7" y="378" width="1.6" height="1.6" fill="#7c1426" opacity="0.7"/>
<rect x="172.1" y="378" width="1.6" height="1.6" fill="#7c1426" opacity="0.7"/>
<rect x="175.5" y="378" width="1.6" height="1.6" fill="#7c1426" opacity="0.7"/>
<text x="199.55" y="317" font-size="9.4" text-anchor="middle" textLength="18.3" lengthAdjust="spacingAndGlyphs">PEA</text>
<text x="157.7" y="420.9" font-size="10.2" textLength="80.4" lengthAdjust="spacingAndGlyphs">Concentration (µg/ml)</text>
<text transform="translate(128.2 354.6) rotate(-90)" font-size="9.6" text-anchor="middle" textLength="63.6" lengthAdjust="spacingAndGlyphs">Relative P-selectin</text>
<text transform="translate(139.2 355) rotate(-90)" font-size="9.6" text-anchor="middle" textLength="53.1" lengthAdjust="spacingAndGlyphs">expression (%)</text>
<line x1="218.5" y1="334.6" x2="228.5" y2="334.6" stroke="#3f2c4c" stroke-width="1"/>
<circle cx="223.5" cy="334.6" r="1.4" fill="#24142f"/>
<text x="231.8" y="337" font-size="7.8">HIT2P4D5</text>
<line x1="218.5" y1="342.8" x2="228.5" y2="342.8" stroke="#c32747" stroke-width="1"/>
<circle cx="223.5" cy="342.8" r="1.4" fill="#7c1426"/>
<text x="231.8" y="345.2" font-size="7.8">P4D5-R106K</text>
<line x1="360.2" y1="327.4" x2="360.2" y2="384.8" stroke="#262626" stroke-width="1.1"/>
<line x1="359.7" y1="384.3" x2="433.8" y2="384.3" stroke="#262626" stroke-width="1.1"/>
<line x1="357.2" y1="384.3" x2="360.2" y2="384.3" stroke="#262626" stroke-width="1"/>
<text x="352.1" y="387" font-size="8.7" text-anchor="end">0</text>
<line x1="357.2" y1="365.9" x2="360.2" y2="365.9" stroke="#262626" stroke-width="1"/>
<text x="352.1" y="368.6" font-size="8.7" text-anchor="end">10</text>
<line x1="357.2" y1="347.5" x2="360.2" y2="347.5" stroke="#262626" stroke-width="1"/>
<text x="352.1" y="350.2" font-size="8.7" text-anchor="end">20</text>
<line x1="357.2" y1="329.1" x2="360.2" y2="329.1" stroke="#262626" stroke-width="1"/>
<text x="352.1" y="331.8" font-size="8.7" text-anchor="end">30</text>
<line x1="372.3" y1="384.3" x2="372.3" y2="387.3" stroke="#262626" stroke-width="1"/>
<text transform="translate(371.7 396) rotate(-45)" font-size="9.3" text-anchor="end" textLength="13" lengthAdjust="spacingAndGlyphs">160</text>
<line x1="396.9" y1="384.3" x2="396.9" y2="387.3" stroke="#262626" stroke-width="1"/>
<text transform="translate(396.3 396) rotate(-45)" font-size="9.3" text-anchor="end" textLength="9.26" lengthAdjust="spacingAndGlyphs">80</text>
<line x1="421.5" y1="384.3" x2="421.5" y2="387.3" stroke="#262626" stroke-width="1"/>
<text transform="translate(420.9 396) rotate(-45)" font-size="9.3" text-anchor="end" textLength="9.26" lengthAdjust="spacingAndGlyphs">40</text>
<polyline points="372.3,360.8 396.9,364.3 421.5,370.5" fill="none" stroke="#3f2c4c" stroke-width="1.3" stroke-linejoin="round"/>
<circle cx="372.3" cy="360.8" r="1.4" fill="#24142f"/>
<circle cx="396.9" cy="364.3" r="1.4" fill="#24142f"/>
<circle cx="421.5" cy="370.5" r="1.4" fill="#24142f"/>
<polyline points="372.3,344.2 396.9,350 421.5,358.2" fill="none" stroke="#c32747" stroke-width="1.3" stroke-linejoin="round"/>
<line x1="396.9" y1="348.2" x2="396.9" y2="352.3" stroke="#c32747" stroke-width="1.1"/>
<line x1="395.7" y1="348.2" x2="398.1" y2="348.2" stroke="#c32747" stroke-width="0.8"/>
<line x1="395.7" y1="352.3" x2="398.1" y2="352.3" stroke="#c32747" stroke-width="0.8"/>
<line x1="421.5" y1="354.9" x2="421.5" y2="362.3" stroke="#c32747" stroke-width="1.1"/>
<line x1="420.3" y1="354.9" x2="422.7" y2="354.9" stroke="#c32747" stroke-width="0.8"/>
<line x1="420.3" y1="362.3" x2="422.7" y2="362.3" stroke="#c32747" stroke-width="0.8"/>
<circle cx="372.3" cy="344.2" r="1.4" fill="#7c1426"/>
<circle cx="396.9" cy="350" r="1.4" fill="#7c1426"/>
<circle cx="421.5" cy="358.2" r="1.4" fill="#7c1426"/>
<rect x="384.3" y="341.5" width="1.6" height="1.6" fill="#7c1426" opacity="0.7"/>
<rect x="387.47" y="341.5" width="1.6" height="1.6" fill="#7c1426" opacity="0.7"/>
<rect x="390.63" y="341.5" width="1.6" height="1.6" fill="#7c1426" opacity="0.7"/>
<rect x="393.8" y="341.5" width="1.6" height="1.6" fill="#7c1426" opacity="0.7"/>
<text x="397.3" y="317.3" font-size="9.4" text-anchor="middle" textLength="19.2" lengthAdjust="spacingAndGlyphs">PEA</text>
<text x="357.3" y="420.9" font-size="10.2" textLength="80.2" lengthAdjust="spacingAndGlyphs">Concentration (µg/ml)</text>
<text transform="translate(325.4 354.6) rotate(-90)" font-size="9.6" text-anchor="middle" textLength="63.6" lengthAdjust="spacingAndGlyphs">Relative P-selectin</text>
<text transform="translate(338.6 354.6) rotate(-90)" font-size="9.6" text-anchor="middle" textLength="52.4" lengthAdjust="spacingAndGlyphs">expression (%)</text>
<line x1="440.8" y1="347.7" x2="451.2" y2="347.7" stroke="#3f2c4c" stroke-width="1"/>
<circle cx="446" cy="347.7" r="1.4" fill="#24142f"/>
<text x="454.7" y="350.6" font-size="7.8">HIT5P7B10</text>
<line x1="440.8" y1="355.8" x2="451.2" y2="355.8" stroke="#c32747" stroke-width="1"/>
<circle cx="446" cy="355.8" r="1.4" fill="#7c1426"/>
<text x="454.7" y="358.9" font-size="7.8">P7B10-D110A</text>
<text x="0.6" y="447.8" font-size="12" font-weight="bold" fill="#111" stroke="#111" stroke-width="0.45">E</text>
<line x1="25.6" y1="469.9" x2="25.6" y2="528.4" stroke="#262626" stroke-width="1.1"/>
<line x1="25.1" y1="527.9" x2="99.5" y2="527.9" stroke="#262626" stroke-width="1.1"/>
<line x1="22.6" y1="527.9" x2="25.6" y2="527.9" stroke="#262626" stroke-width="1"/>
<text x="18.9" y="530.6" font-size="8.7" text-anchor="end">0</text>
<line x1="22.6" y1="516.8" x2="25.6" y2="516.8" stroke="#262626" stroke-width="1"/>
<text x="18.9" y="519.5" font-size="8.7" text-anchor="end">1</text>
<line x1="22.6" y1="505.7" x2="25.6" y2="505.7" stroke="#262626" stroke-width="1"/>
<text x="18.9" y="508.4" font-size="8.7" text-anchor="end">2</text>
<line x1="22.6" y1="494.6" x2="25.6" y2="494.6" stroke="#262626" stroke-width="1"/>
<text x="18.9" y="497.3" font-size="8.7" text-anchor="end">3</text>
<line x1="22.6" y1="483.5" x2="25.6" y2="483.5" stroke="#262626" stroke-width="1"/>
<text x="18.9" y="486.2" font-size="8.7" text-anchor="end">4</text>
<line x1="22.6" y1="472.4" x2="25.6" y2="472.4" stroke="#262626" stroke-width="1"/>
<text x="18.9" y="475.1" font-size="8.7" text-anchor="end">5</text>
<line x1="33" y1="527.9" x2="33" y2="530.9" stroke="#262626" stroke-width="1"/>
<text transform="translate(32.4 539.6) rotate(-45)" font-size="9.3" text-anchor="end" textLength="13" lengthAdjust="spacingAndGlyphs">300</text>
<line x1="47.9" y1="527.9" x2="47.9" y2="530.9" stroke="#262626" stroke-width="1"/>
<text transform="translate(47.3 539.6) rotate(-45)" font-size="9.3" text-anchor="end" textLength="13" lengthAdjust="spacingAndGlyphs">100</text>
<line x1="62.7" y1="527.9" x2="62.7" y2="530.9" stroke="#262626" stroke-width="1"/>
<text transform="translate(62.1 539.6) rotate(-45)" font-size="9.3" text-anchor="end" textLength="8.63" lengthAdjust="spacingAndGlyphs">33</text>
<line x1="77.4" y1="527.9" x2="77.4" y2="530.9" stroke="#262626" stroke-width="1"/>
<text transform="translate(76.8 539.6) rotate(-45)" font-size="9.3" text-anchor="end" textLength="8.63" lengthAdjust="spacingAndGlyphs">11</text>
<line x1="92.1" y1="527.9" x2="92.1" y2="530.9" stroke="#262626" stroke-width="1"/>
<text transform="translate(91.5 539.6) rotate(-45)" font-size="9.3" text-anchor="end" textLength="15.08" lengthAdjust="spacingAndGlyphs">3.67</text>
<polyline points="33,491.1 47.9,509.4 62.7,520.2 77.4,525.1 92.1,526.8" fill="none" stroke="#3f2c4c" stroke-width="1.3" stroke-linejoin="round"/>
<line x1="33" y1="489.5" x2="33" y2="493" stroke="#3f2c4c" stroke-width="1.1"/>
<line x1="31.8" y1="489.5" x2="34.2" y2="489.5" stroke="#3f2c4c" stroke-width="0.8"/>
<line x1="31.8" y1="493" x2="34.2" y2="493" stroke="#3f2c4c" stroke-width="0.8"/>
<circle cx="33" cy="491.1" r="1.4" fill="#24142f"/>
<circle cx="47.9" cy="509.4" r="1.4" fill="#24142f"/>
<circle cx="62.7" cy="520.2" r="1.4" fill="#24142f"/>
<circle cx="77.4" cy="525.1" r="1.4" fill="#24142f"/>
<circle cx="92.1" cy="526.8" r="1.4" fill="#24142f"/>
<polyline points="33,483.8 47.9,495.7 62.7,514.8 77.4,523.8 92.1,526.3" fill="none" stroke="#c32747" stroke-width="1.3" stroke-linejoin="round"/>
<line x1="47.9" y1="493.8" x2="47.9" y2="497.8" stroke="#c32747" stroke-width="1.1"/>
<line x1="46.7" y1="493.8" x2="49.1" y2="493.8" stroke="#c32747" stroke-width="0.8"/>
<line x1="46.7" y1="497.8" x2="49.1" y2="497.8" stroke="#c32747" stroke-width="0.8"/>
<line x1="62.7" y1="512.4" x2="62.7" y2="517" stroke="#c32747" stroke-width="1.1"/>
<line x1="61.5" y1="512.4" x2="63.9" y2="512.4" stroke="#c32747" stroke-width="0.8"/>
<line x1="61.5" y1="517" x2="63.9" y2="517" stroke="#c32747" stroke-width="0.8"/>
<circle cx="33" cy="483.8" r="1.4" fill="#7c1426"/>
<circle cx="47.9" cy="495.7" r="1.4" fill="#7c1426"/>
<circle cx="62.7" cy="514.8" r="1.4" fill="#7c1426"/>
<circle cx="77.4" cy="523.8" r="1.4" fill="#7c1426"/>
<circle cx="92.1" cy="526.3" r="1.4" fill="#7c1426"/>
<rect x="36.8" y="478.6" width="1.6" height="1.6" fill="#7c1426" opacity="0.7"/>
<rect x="40.35" y="478.6" width="1.6" height="1.6" fill="#7c1426" opacity="0.7"/>
<rect x="43.9" y="478.6" width="1.6" height="1.6" fill="#7c1426" opacity="0.7"/>
<text x="63.05" y="460.8" font-size="9.4" text-anchor="middle" textLength="57.7" lengthAdjust="spacingAndGlyphs">PF4/H ELISA</text>
<text x="21.5" y="563.4" font-size="10.2" textLength="79.8" lengthAdjust="spacingAndGlyphs">Concentration (µg/ml)</text>
<text transform="translate(8.9 497.1) rotate(-90)" font-size="10.2" text-anchor="middle" textLength="27" lengthAdjust="spacingAndGlyphs">OD 450</text>
<line x1="161.8" y1="469.8" x2="161.8" y2="528.1" stroke="#262626" stroke-width="1.1"/>
<line x1="161.3" y1="527.6" x2="235.6" y2="527.6" stroke="#262626" stroke-width="1.1"/>
<line x1="158.8" y1="527.5" x2="161.8" y2="527.5" stroke="#262626" stroke-width="1"/>
<text x="153.6" y="530.2" font-size="8.7" text-anchor="end">0</text>
<line x1="158.8" y1="499.9" x2="161.8" y2="499.9" stroke="#262626" stroke-width="1"/>
<text x="153.6" y="502.6" font-size="8.7" text-anchor="end">10</text>
<line x1="158.8" y1="472.3" x2="161.8" y2="472.3" stroke="#262626" stroke-width="1"/>
<text x="153.6" y="475" font-size="8.7" text-anchor="end">20</text>
<line x1="173.9" y1="527.6" x2="173.9" y2="530.6" stroke="#262626" stroke-width="1"/>
<text transform="translate(173.3 539.3) rotate(-45)" font-size="9.3" text-anchor="end" textLength="9.26" lengthAdjust="spacingAndGlyphs">80</text>
<line x1="198.4" y1="527.6" x2="198.4" y2="530.6" stroke="#262626" stroke-width="1"/>
<text transform="translate(197.8 539.3) rotate(-45)" font-size="9.3" text-anchor="end" textLength="9.26" lengthAdjust="spacingAndGlyphs">40</text>
<line x1="223" y1="527.6" x2="223" y2="530.6" stroke="#262626" stroke-width="1"/>
<text transform="translate(222.4 539.3) rotate(-45)" font-size="9.3" text-anchor="end" textLength="9.26" lengthAdjust="spacingAndGlyphs">20</text>
<polyline points="173.9,520.9 198.4,523.5 223,527.3" fill="none" stroke="#3f2c4c" stroke-width="1.3" stroke-linejoin="round"/>
<line x1="173.9" y1="519" x2="173.9" y2="522.8" stroke="#3f2c4c" stroke-width="1.1"/>
<line x1="172.7" y1="519" x2="175.1" y2="519" stroke="#3f2c4c" stroke-width="0.8"/>
<line x1="172.7" y1="522.8" x2="175.1" y2="522.8" stroke="#3f2c4c" stroke-width="0.8"/>
<line x1="198.4" y1="522" x2="198.4" y2="525" stroke="#3f2c4c" stroke-width="1.1"/>
<line x1="197.2" y1="522" x2="199.6" y2="522" stroke="#3f2c4c" stroke-width="0.8"/>
<line x1="197.2" y1="525" x2="199.6" y2="525" stroke="#3f2c4c" stroke-width="0.8"/>
<circle cx="173.9" cy="520.9" r="1.4" fill="#24142f"/>
<circle cx="198.4" cy="523.5" r="1.4" fill="#24142f"/>
<circle cx="223" cy="527.3" r="1.4" fill="#24142f"/>
<polyline points="173.9,486.6 198.4,494.8 223,523.3" fill="none" stroke="#c32747" stroke-width="1.3" stroke-linejoin="round"/>
<line x1="198.4" y1="490.6" x2="198.4" y2="498.6" stroke="#c32747" stroke-width="1.1"/>
<line x1="197.2" y1="490.6" x2="199.6" y2="490.6" stroke="#c32747" stroke-width="0.8"/>
<line x1="197.2" y1="498.6" x2="199.6" y2="498.6" stroke="#c32747" stroke-width="0.8"/>
<line x1="223" y1="521" x2="223" y2="525.6" stroke="#c32747" stroke-width="1.1"/>
<line x1="221.8" y1="521" x2="224.2" y2="521" stroke="#c32747" stroke-width="0.8"/>
<line x1="221.8" y1="525.6" x2="224.2" y2="525.6" stroke="#c32747" stroke-width="0.8"/>
<circle cx="173.9" cy="486.6" r="1.4" fill="#7c1426"/>
<circle cx="198.4" cy="494.8" r="1.4" fill="#7c1426"/>
<circle cx="223" cy="523.3" r="1.4" fill="#7c1426"/>
<rect x="167.8" y="478.9" width="1.6" height="1.6" fill="#7c1426" opacity="0.7"/>
<rect x="171.6" y="478.9" width="1.6" height="1.6" fill="#7c1426" opacity="0.7"/>
<text x="199.6" y="460.3" font-size="9.4" text-anchor="middle" textLength="18.4" lengthAdjust="spacingAndGlyphs">PEA</text>
<text x="157.7" y="563.8" font-size="10.2" textLength="80.4" lengthAdjust="spacingAndGlyphs">Concentration (µg/ml)</text>
<text transform="translate(128.2 498.2) rotate(-90)" font-size="9.6" text-anchor="middle" textLength="65" lengthAdjust="spacingAndGlyphs">Relative P-selectin</text>
<text transform="translate(139.2 498.2) rotate(-90)" font-size="9.6" text-anchor="middle" textLength="53.8" lengthAdjust="spacingAndGlyphs">expression (%)</text>
<line x1="216.5" y1="479.9" x2="226.2" y2="479.9" stroke="#3f2c4c" stroke-width="1"/>
<circle cx="221.35" cy="479.9" r="1.4" fill="#24142f"/>
<text x="229.7" y="482.5" font-size="7.8">HIT2P4D2</text>
<line x1="216.5" y1="487.8" x2="226.2" y2="487.8" stroke="#c32747" stroke-width="1"/>
<circle cx="221.35" cy="487.8" r="1.4" fill="#7c1426"/>
<text x="229.7" y="490.5" font-size="7.8">P4D2-K106R</text>
</svg>
</body></html>
